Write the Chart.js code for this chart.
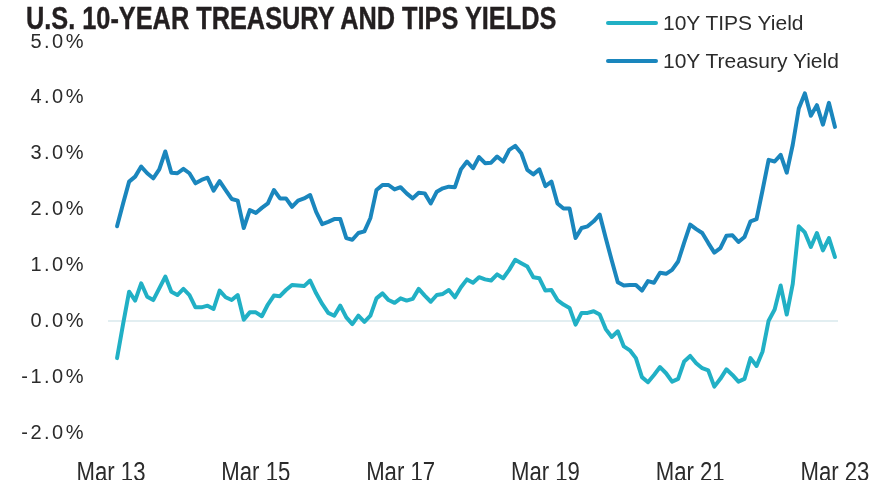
<!DOCTYPE html>
<html>
<head>
<meta charset="utf-8">
<script src="https://cdn.jsdelivr.net/npm/chart.js@4.4.1/dist/chart.umd.min.js"></script>
<style>
html,body{margin:0;padding:0;background:#fff;}
#wrap{position:relative;width:884px;height:480px;overflow:hidden;}
#c{position:absolute;left:0;top:0;}
#title{position:absolute;left:26px;top:3px;font-weight:bold;font-size:30.5px;line-height:30px;font-family:"Liberation Sans",Arial,sans-serif;color:#231f20;white-space:nowrap;transform:scaleX(0.83);transform-origin:0 0;-webkit-text-stroke:0.4px #231f20;}
.leg{position:absolute;left:606px;height:26px;display:flex;align-items:center;font-size:21px;font-family:"Liberation Sans",Arial,sans-serif;color:#2b2b2b;white-space:nowrap;}
.leg i{display:inline-block;width:52px;height:4px;border-radius:2px;margin-right:5px;}
</style>
</head>
<body>
<div id="wrap">
<canvas id="c" width="884" height="480"></canvas>
<div id="title">U.S. 10-YEAR TREASURY AND TIPS YIELDS</div>
</div>
<script>
// ---- data (monthly, Apr 2013 -> Mar 2023) ----
const seriesNames = ['10Y TIPS Yield', '10Y Treasury Yield'];
const seriesColors = ['#21b0c5', '#1a86bd'];

const tipsYield = [
  -0.66, -0.05, 0.53, 0.37, 0.68, 0.44, 0.38, 0.59, 0.80, 0.53, 0.47, 0.58,
  0.47, 0.25, 0.25, 0.28, 0.22, 0.55, 0.43, 0.38, 0.47, 0.03, 0.16, 0.16,
  0.09, 0.30, 0.46, 0.45, 0.56, 0.65, 0.64, 0.63, 0.73, 0.50, 0.31, 0.15,
  0.10, 0.28, 0.07, -0.05, 0.10, -0.01, 0.10, 0.41, 0.50, 0.38, 0.33, 0.41,
  0.37, 0.40, 0.58, 0.46, 0.35, 0.47, 0.49, 0.56, 0.43, 0.61, 0.75, 0.69,
  0.79, 0.75, 0.73, 0.84, 0.77, 0.92, 1.10, 1.04, 0.98, 0.79, 0.77, 0.55,
  0.56, 0.38, 0.30, 0.24, -0.06, 0.15, 0.15, 0.18, 0.12, -0.14, -0.28, -0.18,
  -0.45, -0.52, -0.66, -1.00, -1.09, -0.96, -0.82, -0.93, -1.08, -1.03, -0.72, -0.62,
  -0.75, -0.84, -0.88, -1.17, -1.03, -0.86, -0.96, -1.08, -1.03, -0.66, -0.80, -0.54,
  0.01, 0.21, 0.64, 0.12, 0.67, 1.70, 1.59, 1.33, 1.58, 1.27, 1.49, 1.15
];

const treasuryYield = [
  1.70, 2.11, 2.50, 2.59, 2.77, 2.65, 2.56, 2.72, 3.04, 2.66, 2.65, 2.73,
  2.65, 2.47, 2.53, 2.57, 2.34, 2.51, 2.35, 2.19, 2.16, 1.67, 1.99, 1.94,
  2.03, 2.11, 2.35, 2.20, 2.20, 2.05, 2.16, 2.20, 2.26, 1.96, 1.74, 1.78,
  1.83, 1.83, 1.49, 1.46, 1.58, 1.61, 1.85, 2.35, 2.44, 2.44, 2.36, 2.40,
  2.29, 2.20, 2.30, 2.29, 2.11, 2.32, 2.38, 2.41, 2.40, 2.72, 2.86, 2.74,
  2.94, 2.83, 2.84, 2.95, 2.86, 3.07, 3.14, 3.01, 2.71, 2.63, 2.72, 2.42,
  2.50, 2.11, 2.02, 2.02, 1.49, 1.67, 1.70, 1.79, 1.91, 1.49, 1.09, 0.70,
  0.64, 0.65, 0.65, 0.55, 0.72, 0.69, 0.87, 0.85, 0.92, 1.07, 1.41, 1.73,
  1.65, 1.58, 1.40, 1.23, 1.31, 1.53, 1.54, 1.42, 1.51, 1.79, 1.83, 2.35,
  2.89, 2.86, 2.98, 2.66, 3.16, 3.81, 4.08, 3.68, 3.87, 3.52, 3.91, 3.48
];

// category axis: Mar 13 ... Mar 23 (the lines start one month after the first label)
const monthNames = ['Jan','Feb','Mar','Apr','May','Jun','Jul','Aug','Sep','Oct','Nov','Dec'];
const categories = [];
for (let k = 0; k <= 120; k++) {
  const m = (2 + k) % 12;
  const y = 13 + Math.floor((2 + k) / 12);
  categories.push(monthNames[m] + ' ' + String(y).padStart(2, '0'));
}
const xTickLabels = ['Mar 13', 'Mar 15', 'Mar 17', 'Mar 19', 'Mar 21', 'Mar 23'];
const yTickValues = [-2, -1, 0, 1, 2, 3, 4, 5];

// ---- legend (HTML text) ----
const wrap = document.getElementById('wrap');
const legendTops = [10, 48];
seriesNames.forEach((n, i) => {
  const d = document.createElement('div');
  d.className = 'leg';
  d.style.top = legendTops[i] + 'px';
  const sw = document.createElement('i');
  sw.style.background = seriesColors[i];
  d.appendChild(sw);
  d.appendChild(document.createTextNode(n));
  wrap.appendChild(d);
});

// y labels: tracked text; x labels: condensed text
const textStylePlugin = {
  id: 'textStyle',
  beforeDraw(chart) {
    const y = chart.scales.y;
    if (y && !y._styled) {
      const origY = y.drawLabels.bind(y);
      y.drawLabels = function (area) {
        const ctx = this.ctx;
        ctx.save();
        ctx.letterSpacing = '2.5px';
        origY(area);
        ctx.restore();
      };
      y._styled = true;
    }
    const x = chart.scales.x;
    if (x && !x._styled) {
      const origX = x.drawLabels.bind(x);
      x.drawLabels = function (area) {
        const ctx = this.ctx;
        const ft = CanvasRenderingContext2D.prototype.fillText;
        ctx.fillText = function (t, px, py) {
          const w = this.measureText(t).width;
          return ft.call(this, t, px, py, Math.max(1, w * 0.82));
        };
        origX(area);
        delete ctx.fillText;
      };
      x._styled = true;
    }
  }
};

new Chart(document.getElementById('c'), {
  type: 'line',
  data: {
    labels: categories,
    datasets: [
      {
        label: seriesNames[0],
        data: [null].concat(tipsYield),
        borderColor: seriesColors[0],
        backgroundColor: seriesColors[0],
        borderWidth: 4,
        pointRadius: 0,
        tension: 0,
        borderJoinStyle: 'round',
        borderCapStyle: 'round'
      },
      {
        label: seriesNames[1],
        data: [null].concat(treasuryYield),
        borderColor: seriesColors[1],
        backgroundColor: seriesColors[1],
        borderWidth: 4,
        pointRadius: 0,
        tension: 0,
        borderJoinStyle: 'round',
        borderCapStyle: 'round'
      }
    ]
  },
  options: {
    responsive: false,
    animation: false,
    devicePixelRatio: 1,
    layout: { padding: { top: 42, right: 46, bottom: 0, left: 0 } },
    plugins: {
      legend: { display: false },
      title: { display: false },
      tooltip: { enabled: false }
    },
    scales: {
      x: {
        type: 'category',
        offset: true,
        grid: { display: false },
        border: { display: false },
        afterFit(s) { s.height = 47; s.paddingLeft = 0; s.paddingRight = 0; },
        ticks: {
          autoSkip: false,
          maxRotation: 0,
          minRotation: 0,
          padding: 16,
          color: '#2b2b2b',
          font: { family: '"Liberation Sans",Arial,sans-serif', size: 27 },
          callback(val, idx) {
            const lab = this.getLabelForValue(val);
            return xTickLabels.includes(lab) ? lab : '';
          }
        }
      },
      y: {
        min: -2,
        max: 5,
        afterFit(s) { s.width = 108; },
        afterBuildTicks(s) { s.ticks = yTickValues.map(v => ({ value: v })); },
        border: { display: false },
        grid: {
          drawTicks: false,
          lineWidth: 2,
          color(ctx) { return ctx.tick && ctx.tick.value === 0 ? '#e2eef1' : 'rgba(0,0,0,0)'; }
        },
        ticks: {
          padding: 22,
          color: '#2b2b2b',
          font: { family: '"Liberation Sans",Arial,sans-serif', size: 20 },
          callback(v) { return v.toFixed(1) + '%'; }
        }
      }
    }
  },
  plugins: [textStylePlugin]
});
</script>
</body>
</html>
